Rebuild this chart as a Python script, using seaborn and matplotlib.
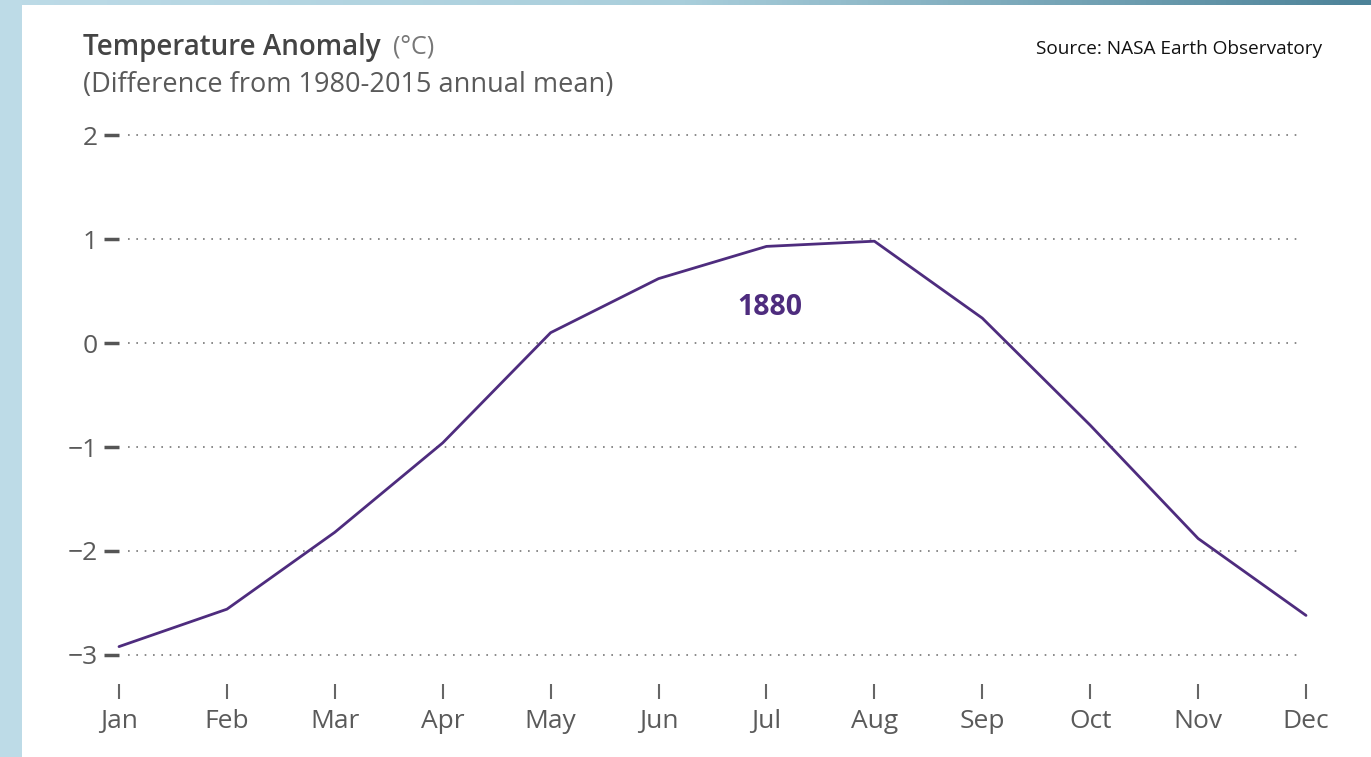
import matplotlib.pyplot as plt
import matplotlib.patches as mpatches
import numpy as np
import pandas as pd
import seaborn as sns

# Data (1880 monthly anomaly, deg C)
months = ['Jan', 'Feb', 'Mar', 'Apr', 'May', 'Jun',
          'Jul', 'Aug', 'Sep', 'Oct', 'Nov', 'Dec']
anomaly_1880 = [-2.92, -2.56, -1.82, -0.96, 0.10, 0.62,
                0.93, 0.98, 0.24, -0.79, -1.88, -2.62]
y_ticks = [2, 1, 0, -1, -2, -3]

LINE_COLOR = '#4e2c7e'
TEXT_GRAY = '#5a5a5a'

sns.set_style('white')
plt.rcParams['font.family'] = ['Open Sans', 'DejaVu Sans']

df = pd.DataFrame({'month': np.arange(len(months)), 'anomaly': anomaly_1880})

fig = plt.figure(figsize=(13.71, 7.57), dpi=100)
ax = fig.add_axes([0.0868, 0.0964, 0.8658, 0.7319])

sns.lineplot(data=df, x='month', y='anomaly', ax=ax,
             color=LINE_COLOR, linewidth=2.0, clip_on=False)

ax.set_xlim(0, 11)
ax.set_ylim(-3.28, 2.05)
ax.set_yticks(y_ticks)
ax.set_yticklabels([str(v).replace('-', '\u2212') for v in y_ticks])
ax.set_xticks(df['month'])
ax.set_xticklabels(months)
ax.set_xlabel('')
ax.set_ylabel('')

# dotted grid lines across the plot
for v in y_ticks:
    ax.axhline(v, color='#777777', linestyle=(0, (1, 4)), linewidth=1.2,
               xmin=0.008, xmax=0.995, zorder=0)

for s in ax.spines.values():
    s.set_visible(False)

ax.tick_params(axis='y', direction='out', length=11, width=2.5, color='#555555',
               labelsize=19, labelcolor=TEXT_GRAY, pad=4)
ax.tick_params(axis='x', direction='out', length=11, width=1.5, color='#666666',
               labelsize=19, labelcolor=TEXT_GRAY, pad=7)
ax.tick_params(axis='x', which='major', bottom=True)
ax.tick_params(axis='y', which='major', left=True)

ax.text(6.03, 0.34, '1880', color=LINE_COLOR, fontsize=20.5, fontweight='bold',
        ha='center', va='center')

# titles
title = fig.text(83 / 1371, 1 - 47 / 757, 'Temperature Anomaly', fontsize=20,
                 fontweight='semibold', color='#444444', ha='left', va='center')
fig.canvas.draw()
tb = title.get_window_extent()
fig.text((tb.x1 + 12) / 1371, 1 - 47 / 757, '(\u00b0C)', fontsize=18,
         color='#777777', ha='left', va='center')
fig.text(83 / 1371, 1 - 85 / 757, '(Difference from 1980-2015 annual mean)',
         fontsize=19.5, color=TEXT_GRAY, ha='left', va='center')
fig.text(1322 / 1371, 1 - 49 / 757, 'Source: NASA Earth Observatory',
         fontsize=13.7, color='#111111', ha='right', va='center')

# screenshot frame: light blue strip left, gradient strip on top
fig.patches.append(mpatches.Rectangle((0, 0), 22 / 1371, 1, transform=fig.transFigure,
                                      facecolor='#bddbe7', edgecolor='none', zorder=5))
top = fig.add_axes([0, 1 - 5 / 757, 1, 5 / 757])
grad = np.linspace(0, 1, 256).reshape(1, -1)
top.imshow(grad, aspect='auto', cmap=sns.blend_palette(['#bddbe7', '#a9cedb', '#4c8298'],
                                                         as_cmap=True))
top.set_axis_off()

fig.savefig('out.png', dpi=100)
